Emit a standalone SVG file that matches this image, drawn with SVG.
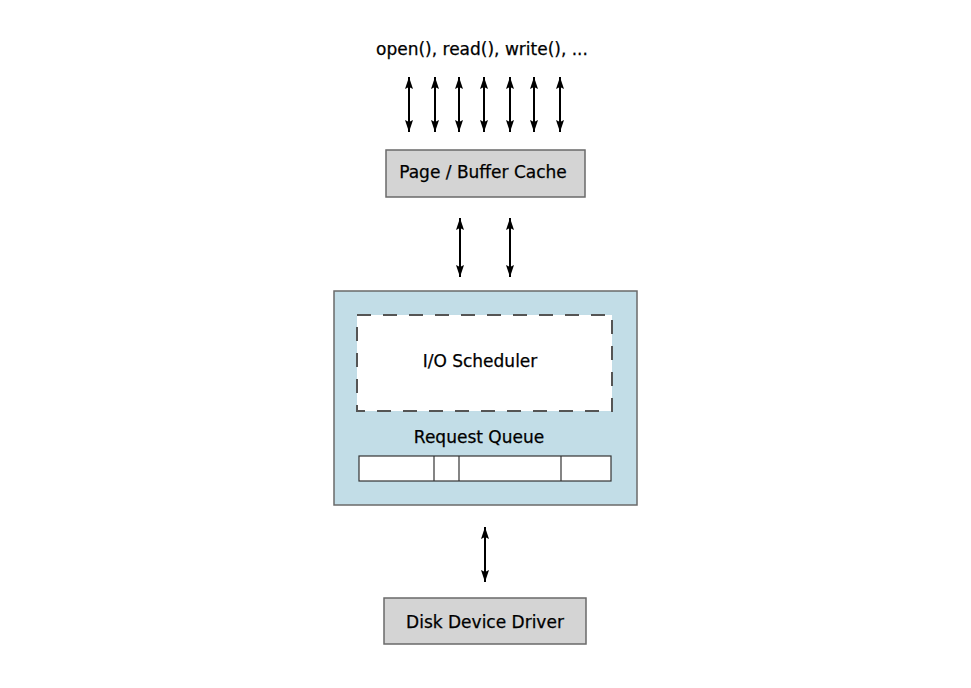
<svg xmlns="http://www.w3.org/2000/svg" width="971" height="688" viewBox="0 0 971 688">
<defs>
<marker id="ah" viewBox="0 0 12 8" refX="12" refY="4" markerWidth="12" markerHeight="8" orient="auto-start-reverse" markerUnits="userSpaceOnUse">
<path d="M0,0 L12,4 L0,8 L2,4 z" fill="#000"/>
</marker>
<style>
.t{font-family:"DejaVu Sans","Liberation Sans",sans-serif;font-size:17px;fill:#000;stroke:#000;stroke-width:0.25;text-anchor:middle}
.box{fill:#d4d4d4;stroke:#6a6a6a;stroke-width:1.5}
.c{stroke:#000;stroke-width:2;fill:none;marker-start:url(#ah);marker-end:url(#ah)}
</style>
</defs>
<rect width="971" height="688" fill="#fff"/>
<text class="t" x="482" y="55">open(), read(), write(), ...</text>
<g id="page-cache">
<rect class="box" x="386" y="150" width="199" height="47"/>
<text class="t" x="483" y="178">Page / Buffer Cache</text>
</g>
<g id="request-queue-block">
<rect x="334" y="291" width="303" height="214" fill="#c2dde7" stroke="#6a6a6a" stroke-width="1.5"/>
<g id="io-scheduler">
<rect x="357" y="315" width="255" height="96" fill="#fff" stroke="#555" stroke-width="2" stroke-dasharray="14,12"/>
<text class="t" x="480" y="367">I/O Scheduler</text>
</g>
<text class="t" x="479" y="443">Request Queue</text>
<g id="queue">
<rect x="359" y="456" width="252" height="25" fill="#fff" stroke="#333" stroke-width="1.2"/>
<line x1="434" y1="456" x2="434" y2="481" stroke="#333" stroke-width="1.2"/>
<line x1="459" y1="456" x2="459" y2="481" stroke="#333" stroke-width="1.2"/>
<line x1="561" y1="456" x2="561" y2="481" stroke="#333" stroke-width="1.2"/>
</g>
</g>
<g id="disk-driver">
<rect class="box" x="384" y="598" width="202" height="46"/>
<text class="t" x="485" y="628">Disk Device Driver</text>
</g>
<g id="connectors">
<line class="c" x1="409" y1="77" x2="409" y2="132"/>
<line class="c" x1="435" y1="77" x2="435" y2="132"/>
<line class="c" x1="459" y1="77" x2="459" y2="132"/>
<line class="c" x1="484" y1="77" x2="484" y2="132"/>
<line class="c" x1="510" y1="77" x2="510" y2="132"/>
<line class="c" x1="534" y1="77" x2="534" y2="132"/>
<line class="c" x1="560" y1="77" x2="560" y2="132"/>
<line class="c" x1="460" y1="218" x2="460" y2="277"/>
<line class="c" x1="510" y1="218" x2="510" y2="277"/>
<line class="c" x1="485" y1="527" x2="485" y2="582"/>
</g>
</svg>
